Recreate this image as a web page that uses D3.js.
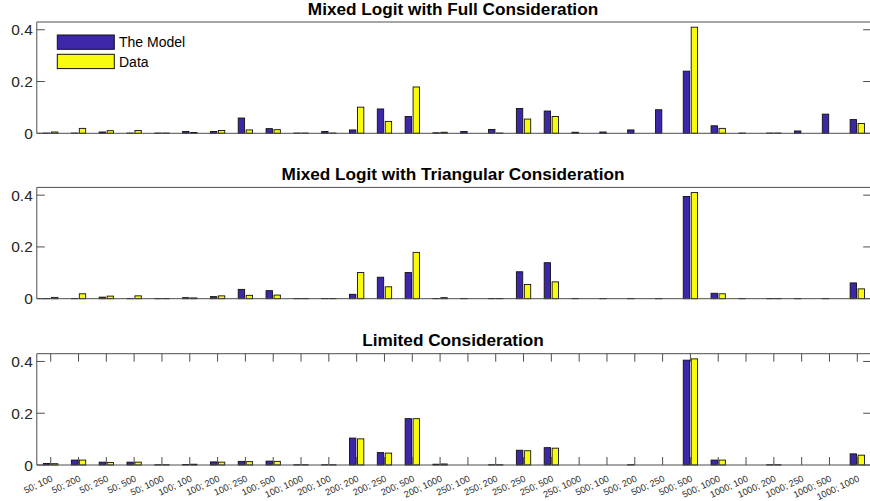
<!DOCTYPE html>
<html>
<head>
<meta charset="utf-8">
<script src="https://cdn.jsdelivr.net/npm/d3@7"></script>
<style>
  html, body { margin: 0; padding: 0; background: #fff; }
  svg { display: block; }
  text { font-family: "Liberation Sans", Arial, Helvetica, sans-serif; }
</style>
</head>
<body>
<svg id="chart" width="870" height="501"></svg>
<script>
// Bid combinations (first price; second price)
const categories = [
  "50; 100", "50; 200", "50; 250", "50; 500", "50; 1000",
  "100; 100", "100; 200", "100; 250", "100; 500", "100; 1000",
  "200; 100", "200; 200", "200; 250", "200; 500", "200; 1000",
  "250; 100", "250; 200", "250; 250", "250; 500", "250; 1000",
  "500; 100", "500; 200", "500; 250", "500; 500", "500; 1000",
  "1000; 100", "1000; 200", "1000; 250", "1000; 500", "1000; 1000"
];

// Observed shares
const dataShare = [
  0.005, 0.019, 0.010, 0.011, 0.001,
  0.003, 0.011, 0.013, 0.014, 0.001,
  0.001, 0.101, 0.046, 0.179, 0.004,
  0.000, 0.001, 0.055, 0.065, 0.000,
  0.000, 0.000, 0.000, 0.410, 0.019,
  0.000, 0.001, 0.000, 0.000, 0.038
];

// Predicted shares, mixed logit with full consideration
const modelFull = [
  0.001, 0.001, 0.005, 0.001, 0.001,
  0.007, 0.007, 0.059, 0.018, 0.001,
  0.007, 0.013, 0.094, 0.065, 0.002,
  0.007, 0.015, 0.096, 0.086, 0.004,
  0.005, 0.013, 0.091, 0.240, 0.029,
  0.001, 0.001, 0.009, 0.074, 0.053
];

// Predicted shares, mixed logit with triangular consideration
const modelTriangular = [
  0.001, 0.001, 0.006, 0.001, 0.001,
  0.004, 0.008, 0.036, 0.031, 0.001,
  0.001, 0.017, 0.083, 0.101, 0.001,
  0.001, 0.001, 0.104, 0.139, 0.001,
  0.001, 0.001, 0.001, 0.395, 0.021,
  0.001, 0.001, 0.001, 0.001, 0.061
];

// Predicted shares, limited consideration
const modelLimited = [
  0.006, 0.019, 0.011, 0.011, 0.001,
  0.002, 0.012, 0.014, 0.015, 0.001,
  0.001, 0.104, 0.048, 0.179, 0.003,
  0.000, 0.001, 0.057, 0.067, 0.000,
  0.000, 0.001, 0.000, 0.405, 0.019,
  0.000, 0.001, 0.000, 0.000, 0.043
];

const panelTitles = [
  "Mixed Logit with Full Consideration",
  "Mixed Logit with Triangular Consideration",
  "Limited Consideration"
];
const panelModels = [modelFull, modelTriangular, modelLimited];
const seriesNames = ["The Model", "Data"];
const seriesColors = ["#3E26A8", "#F9FB0E"];
const yTicks = [0, 0.2, 0.4];
const yMax = 0.43;

const svg = d3.select("#chart");
const axisColor = "#4d4d4d";
const textColor = "#262626";

const plotLeft = 36.8, plotRight = 871.2;
const panelTops = [22, 187.4, 353.7];
const panelHeight = 111.3;
const tickLen = 8;

const x = d3.scaleLinear().domain([0.5, categories.length + 0.5]).range([plotLeft, plotRight]);
// grouped bar geometry (two series per category)
const barW = 0.229;
const offsets = [-0.143, 0.143];

panelTitles.forEach((title, p) => {
  const top = panelTops[p];
  const bottom = top + panelHeight;
  const y = d3.scaleLinear().domain([0, yMax]).range([bottom, top]);
  const g = svg.append("g");

  const series = [panelModels[p], dataShare];
  series.forEach((vals, s) => {
    g.append("g").selectAll("rect")
      .data(vals)
      .join("rect")
      .attr("x", (d, i) => x(i + 1 + offsets[s] - barW / 2))
      .attr("width", x(barW) - x(0))
      .attr("y", d => y(d))
      .attr("height", d => y(0) - y(d))
      .attr("fill", seriesColors[s])
      .attr("stroke", "#111")
      .attr("stroke-width", 0.9);
  });

  // axes box (right edge sits at the window border)
  g.append("line").attr("x1", plotLeft).attr("x2", plotRight).attr("y1", top).attr("y2", top)
    .attr("stroke", axisColor).attr("stroke-width", 1);
  g.append("line").attr("x1", plotLeft).attr("x2", plotRight).attr("y1", bottom).attr("y2", bottom)
    .attr("stroke", axisColor).attr("stroke-width", 1);
  g.append("line").attr("x1", plotLeft).attr("x2", plotLeft).attr("y1", top).attr("y2", bottom)
    .attr("stroke", axisColor).attr("stroke-width", 1);

  // y ticks, inward on both sides
  const yt = g.append("g");
  yt.selectAll("line.l").data(yTicks).join("line").attr("class", "l")
    .attr("x1", plotLeft).attr("x2", plotLeft + tickLen)
    .attr("y1", d => y(d)).attr("y2", d => y(d))
    .attr("stroke", axisColor).attr("stroke-width", 1);
  yt.selectAll("line.r").data(yTicks).join("line").attr("class", "r")
    .attr("x1", plotRight - tickLen).attr("x2", plotRight)
    .attr("y1", d => y(d)).attr("y2", d => y(d))
    .attr("stroke", axisColor).attr("stroke-width", 1);
  yt.selectAll("text").data(yTicks).join("text")
    .attr("x", plotLeft - 4).attr("y", d => y(d))
    .attr("text-anchor", "end").attr("dominant-baseline", "central")
    .attr("font-size", 15.5).attr("fill", textColor)
    .text(d => d3.format("~g")(d));

  // title
  g.append("text")
    .attr("x", (plotLeft + plotRight) / 2 - 1).attr("y", top - 7.5)
    .attr("text-anchor", "middle")
    .attr("font-size", 17.2).attr("font-weight", "bold").attr("fill", "#000")
    .text(title);

  // category ticks and labels only on the last panel
  if (p === panelTitles.length - 1) {
    const idx = d3.range(1, categories.length + 1);
    g.append("g").selectAll("line.b").data(idx).join("line").attr("class", "b")
      .attr("x1", d => x(d)).attr("x2", d => x(d))
      .attr("y1", bottom).attr("y2", bottom - tickLen)
      .attr("stroke", axisColor).attr("stroke-width", 1);
    g.append("g").selectAll("line.t").data(idx).join("line").attr("class", "t")
      .attr("x1", d => x(d)).attr("x2", d => x(d))
      .attr("y1", top).attr("y2", top + tickLen)
      .attr("stroke", axisColor).attr("stroke-width", 1);
    g.append("g").selectAll("text").data(categories).join("text")
      .attr("transform", (d, i) => `translate(${x(i + 1) + 1.5},${bottom + 13}) rotate(-25)`)
      .attr("text-anchor", "end").attr("dominant-baseline", "central")
      .attr("font-size", 9.2).attr("fill", textColor)
      .text(d => d);
  }

  // legend in the first panel
  if (p === 0) {
    const lg = g.append("g");
    seriesNames.forEach((name, s) => {
      const ly = 35 + s * 19.3;
      lg.append("rect").attr("x", 57.3).attr("y", ly).attr("width", 57).attr("height", 14.3)
        .attr("fill", seriesColors[s]).attr("stroke", "#111").attr("stroke-width", 1);
      lg.append("text").attr("x", 119).attr("y", ly + 7.3)
        .attr("dominant-baseline", "central")
        .attr("font-size", 14).attr("fill", "#000")
        .text(name);
    });
  }
});
</script>
</body>
</html>
